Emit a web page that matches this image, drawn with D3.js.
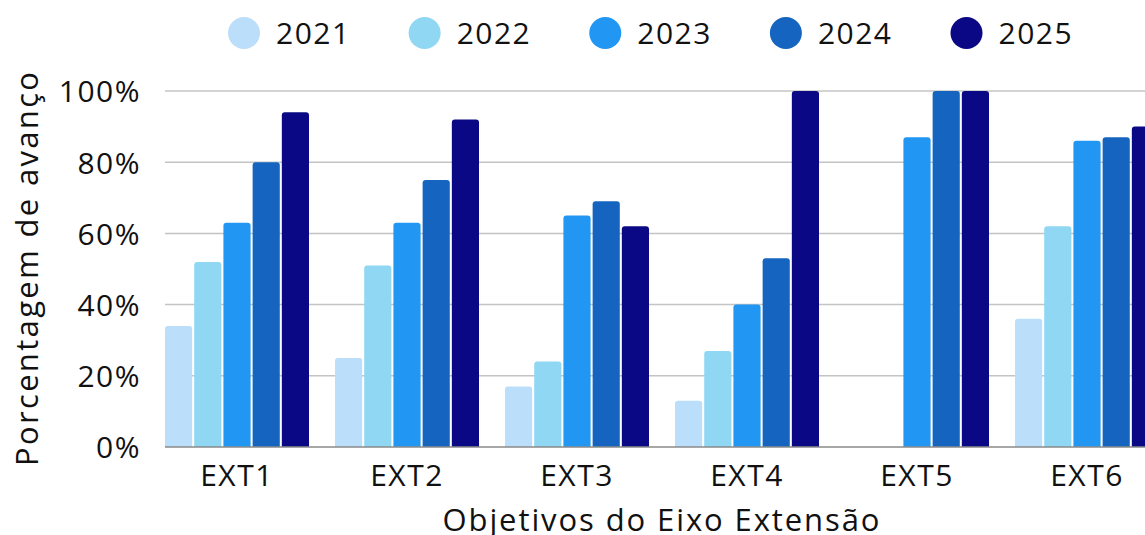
<!DOCTYPE html>
<html>
<head>
<meta charset="utf-8">
<script src="https://cdn.jsdelivr.net/npm/d3@7"></script>
<style>
  html, body { margin: 0; padding: 0; background: #fff; }
  svg { display: block; font-family: "Open Sans", "Noto Sans", sans-serif; }
</style>
</head>
<body>
<svg id="chart" width="1145" height="535"></svg>
<script>
// Objectives of the extension axis and progress per year (%)
const categories = ["EXT1", "EXT2", "EXT3", "EXT4", "EXT5", "EXT6"];
const years = ["2021", "2022", "2023", "2024", "2025"];
const v2021 = [34, 25, 17, 13, 0, 36];
const v2022 = [52, 51, 24, 27, 0, 62];
const v2023 = [63, 63, 65, 40, 87, 86];
const v2024 = [80, 75, 69, 53, 100, 87];
const v2025 = [94, 92, 62, 100, 100, 90];
const yTicks = [0, 20, 40, 60, 80, 100];
const colors = ["#bbdefb", "#90d7f4", "#2196f3", "#1565c0", "#0a0884"];

const seriesValues = [v2021, v2022, v2023, v2024, v2025];
const rows = categories.map((c, i) => ({
  cat: c,
  vals: years.map((y, k) => ({ year: y, value: seriesValues[k][i], color: colors[k] }))
}));

const svg = d3.select("#chart");
const W = 1145, H = 535;
const plotLeft = 165, groupStep = 170, groupGap = 26;
const yTop = 91, yBottom = 447;

const x0 = d3.scaleBand()
  .domain(categories)
  .range([plotLeft, plotLeft + categories.length * groupStep - groupGap])
  .paddingInner(groupGap / groupStep)
  .paddingOuter(0);

const x1 = d3.scaleBand()
  .domain(years)
  .range([0, x0.bandwidth()])
  .paddingInner(0.07)
  .paddingOuter(0);

const y = d3.scaleLinear().domain([0, 100]).range([yBottom, yTop]);

// gridlines
svg.append("g")
  .selectAll("line")
  .data(yTicks.filter(t => t > 0))
  .join("line")
  .attr("x1", plotLeft).attr("x2", W)
  .attr("y1", d => y(d)).attr("y2", d => y(d))
  .attr("stroke", "#c4c4c4")
  .attr("stroke-width", 1.5);

// bars with rounded top corners
function barPath(x, yTopPx, w, h, r) {
  if (h <= 0) return "";
  r = Math.min(r, w / 2, h);
  return `M${x},${yTopPx + h}V${yTopPx + r}Q${x},${yTopPx} ${x + r},${yTopPx}` +
         `H${x + w - r}Q${x + w},${yTopPx} ${x + w},${yTopPx + r}V${yTopPx + h}Z`;
}

const groups = svg.append("g")
  .selectAll("g")
  .data(rows)
  .join("g")
  .attr("transform", d => `translate(${x0(d.cat)},0)`);

groups.selectAll("path")
  .data(d => d.vals.filter(v => v.value > 0))
  .join("path")
  .attr("d", d => barPath(x1(d.year), y(d.value), x1.bandwidth(), y(0) - y(d.value), 3))
  .attr("fill", d => d.color);

// baseline
svg.append("line")
  .attr("x1", plotLeft).attr("x2", W)
  .attr("y1", y(0)).attr("y2", y(0))
  .attr("stroke", "#8a8a8a")
  .attr("stroke-width", 1.5);

// y axis
const yAxis = svg.append("g")
  .attr("transform", `translate(${plotLeft - 24},0)`)
  .call(d3.axisLeft(y).tickValues(yTicks).tickFormat(d => d + "%").tickSize(0).tickPadding(0));
yAxis.select(".domain").remove();
yAxis.selectAll("text")
  .attr("font-size", 30)
  .attr("letter-spacing", 1.5)
  .attr("font-family", "'Open Sans', sans-serif")
  .attr("fill", "#111")
  .attr("dy", "0.36em");

// x axis
const xAxis = svg.append("g")
  .attr("transform", `translate(0,${yBottom})`)
  .call(d3.axisBottom(x0).tickSize(0).tickPadding(0));
xAxis.select(".domain").remove();
xAxis.selectAll("text")
  .attr("font-size", 30)
  .attr("letter-spacing", 1.5)
  .attr("font-family", "'Open Sans', sans-serif")
  .attr("fill", "#111")
  .attr("dy", null)
  .attr("y", 39);

// axis titles
svg.append("text")
  .attr("transform", "translate(38,269) rotate(-90)")
  .attr("text-anchor", "middle")
  .attr("font-size", 31)
  .attr("fill", "#111")
  .attr("textLength", 394)
  .attr("lengthAdjust", "spacing")
  .text("Porcentagem de avanço");

svg.append("text")
  .attr("x", 661)
  .attr("y", 531)
  .attr("text-anchor", "middle")
  .attr("font-size", 31)
  .attr("fill", "#111")
  .attr("textLength", 437)
  .attr("lengthAdjust", "spacing")
  .text("Objetivos do Eixo Extensão");

// legend, laid out left to right
const legend = svg.append("g");
let lx = 228;
years.forEach((yr, k) => {
  const item = legend.append("g");
  item.append("circle")
    .attr("cx", lx + 16).attr("cy", 33).attr("r", 16)
    .attr("fill", colors[k]);
  const t = item.append("text")
    .attr("x", lx + 48).attr("y", 44)
    .attr("font-size", 30)
    .attr("letter-spacing", 1.5)
    .attr("fill", "#111")
    .text(yr);
  const tw = t.node().getComputedTextLength();
  lx = lx + 48 + tw + 58;
});
</script>
</body>
</html>
